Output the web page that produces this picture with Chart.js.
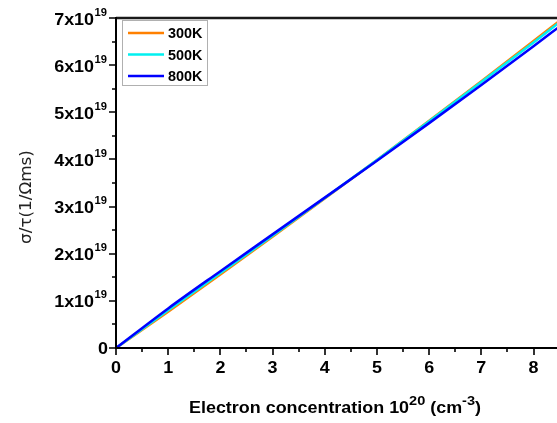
<!DOCTYPE html>
<html>
<head>
<meta charset="utf-8">
<script src="https://cdn.jsdelivr.net/npm/chart.js@4.4.1/dist/chart.umd.min.js"></script>
<style>
  html, body { margin: 0; padding: 0; background: #fff; overflow: hidden; }
  #wrap { width: 557px; height: 423px; position: relative; }
</style>
</head>
<body>
<div id="wrap"><canvas id="chart" width="557" height="423"></canvas></div>
<script>
// electron concentration, in 10^20 cm^-3
const concentrations = [0, 1, 2, 3, 4, 5, 6, 7, 8, 8.5];
// sigma/tau, in 10^19 (1/Ohm m s)
const sigma300K = [0, 0.77, 1.56, 2.36, 3.17, 3.99, 4.82, 5.66, 6.51, 6.94];
const sigma500K = [0, 0.80, 1.59, 2.38, 3.18, 3.99, 4.81, 5.64, 6.48, 6.91];
const sigma800K = [0, 0.84, 1.63, 2.41, 3.19, 3.97, 4.77, 5.58, 6.40, 6.82];

const seriesLabels = ["300K", "500K", "800K"];
const seriesColors = ["#ff8000", "#00f0f0", "#0000ff"];

const xTicks = [0, 1, 2, 3, 4, 5, 6, 7, 8];
const yTicks = [0, 1, 2, 3, 4, 5, 6, 7];
const yExponent = "19";

const toPoints = (vals) => vals.map((v, i) => ({ x: concentrations[i], y: v }));

const FAM = "'Liberation Sans', Arial, sans-serif";
const SX = 1.12; // the original text is a little wider than Arial

// draws text stretched horizontally, returns its drawn width
function txt(ctx, s, x, y, font, align, sx = SX) {
  ctx.save();
  ctx.font = font;
  ctx.textAlign = align || "left";
  ctx.translate(x, y);
  ctx.scale(sx, 1);
  ctx.fillText(s, 0, 0);
  const w = ctx.measureText(s).width * sx;
  ctx.restore();
  return w;
}

function width(ctx, s, font, sx = SX) {
  ctx.save();
  ctx.font = font;
  const w = ctx.measureText(s).width * sx;
  ctx.restore();
  return w;
}

const axesPlugin = {
  id: "axesPlugin",
  afterDraw(c) {
    const { ctx, chartArea, scales } = c;
    const { left, right, top, bottom } = chartArea;
    const x = scales.x;
    const y = scales.y;

    ctx.save();
    ctx.fillStyle = "#000";
    ctx.textBaseline = "alphabetic";

    // top frame line
    ctx.lineWidth = 2.5;
    ctx.strokeStyle = "#1a1a1a";
    ctx.beginPath();
    ctx.moveTo(left, top);
    ctx.lineTo(right, top);
    ctx.stroke();

    // axis lines
    ctx.strokeStyle = "#000";
    ctx.lineWidth = 2;
    ctx.beginPath();
    ctx.moveTo(left, top - 1);
    ctx.lineTo(left, bottom + 1);
    ctx.moveTo(left - 1, bottom);
    ctx.lineTo(right, bottom);
    ctx.stroke();

    // ticks, majors on integers, minors halfway
    ctx.lineWidth = 1.6;
    ctx.beginPath();
    for (let v = 0; v <= x.max; v += 0.5) {
      const px = Math.round(x.getPixelForValue(v));
      ctx.moveTo(px, bottom);
      ctx.lineTo(px, bottom + (Number.isInteger(v) ? 7 : 4));
    }
    for (let v = 0; v <= y.max; v += 0.5) {
      const py = Math.round(y.getPixelForValue(v));
      ctx.moveTo(left, py);
      ctx.lineTo(left - (Number.isInteger(v) ? 7 : 4), py);
    }
    ctx.stroke();

    const big = "bold 16px " + FAM;
    const sup = "bold 10px " + FAM;

    // x tick labels
    xTicks.forEach((v) => {
      txt(ctx, String(v), x.getPixelForValue(v), bottom + 25, big, "center");
    });

    // y tick labels with superscript exponent
    yTicks.forEach((v) => {
      const py = y.getPixelForValue(v);
      if (v === 0) {
        txt(ctx, "0", left - 8, py + 6, big, "right");
      } else {
        const ws = width(ctx, yExponent, sup);
        const rx = left - 9;
        txt(ctx, yExponent, rx, py - 2.5, sup, "right");
        txt(ctx, v + "x10", rx - ws - 0.5, py + 6.5, big, "right");
      }
    });

    // x axis title
    const supT = "bold 13px " + FAM;
    const parts = [
      ["Electron concentration 10", big, 0],
      ["20", supT, -8],
      [" (cm", big, 0],
      ["-3", supT, -8],
      [")", big, 0]
    ];
    const total = parts.reduce((a, p) => a + width(ctx, p[0], p[1]), 0);
    let tx = 335 - total / 2;
    const ty = bottom + 65;
    parts.forEach((p) => {
      tx += txt(ctx, p[0], tx, ty + p[2], p[1], "left");
    });

    // y axis title
    ctx.save();
    ctx.translate(31, 197);
    ctx.rotate(-Math.PI / 2);
    ctx.fillStyle = "#222";
    txt(ctx, "\u03c3/\u03c4(1/\u03a9ms)", 0, 0, "15px 'DejaVu Sans', sans-serif", "center");
    ctx.restore();

    // legend
    const lf = "bold 14px " + FAM;
    const lw = Math.max(...c.data.datasets.map((ds) => width(ctx, ds.label, lf, 1.03)));
    ctx.strokeStyle = "#b0b0b0";
    ctx.lineWidth = 1;
    ctx.strokeRect(122.5, 20.5, Math.round(168 + lw + 5 - 122), 65);
    c.data.datasets.forEach((ds, i) => {
      const ly = 33 + i * 21.5;
      ctx.strokeStyle = ds.borderColor;
      ctx.lineWidth = 2.5;
      ctx.beginPath();
      ctx.moveTo(128, ly);
      ctx.lineTo(164, ly);
      ctx.stroke();
      ctx.fillStyle = "#000";
      txt(ctx, ds.label, 168, ly + 5, lf, "left", 1.03);
    });

    ctx.restore();
  }
};

new Chart(document.getElementById("chart"), {
  type: "line",
  data: {
    datasets: [
      { label: seriesLabels[0], data: toPoints(sigma300K), borderColor: seriesColors[0], order: 3 },
      { label: seriesLabels[1], data: toPoints(sigma500K), borderColor: seriesColors[1], order: 2 },
      { label: seriesLabels[2], data: toPoints(sigma800K), borderColor: seriesColors[2], order: 1 }
    ].map((d) => Object.assign(d, {
      borderWidth: 2.5,
      pointRadius: 0,
      fill: false,
      cubicInterpolationMode: "monotone"
    }))
  },
  options: {
    responsive: false,
    animation: false,
    devicePixelRatio: 1,
    layout: { padding: { top: 18, right: 0, left: 0, bottom: 0 } },
    plugins: { legend: { display: false }, tooltip: { enabled: false } },
    scales: {
      x: {
        type: "linear",
        min: 0,
        max: 8.45,
        ticks: { display: false },
        grid: { display: false },
        border: { display: false },
        afterFit(s) { s.height = 75; }
      },
      y: {
        type: "linear",
        min: 0,
        max: 7,
        ticks: { display: false },
        grid: { display: false },
        border: { display: false },
        afterFit(s) { s.width = 116; }
      }
    }
  },
  plugins: [axesPlugin]
});
</script>
</body>
</html>
